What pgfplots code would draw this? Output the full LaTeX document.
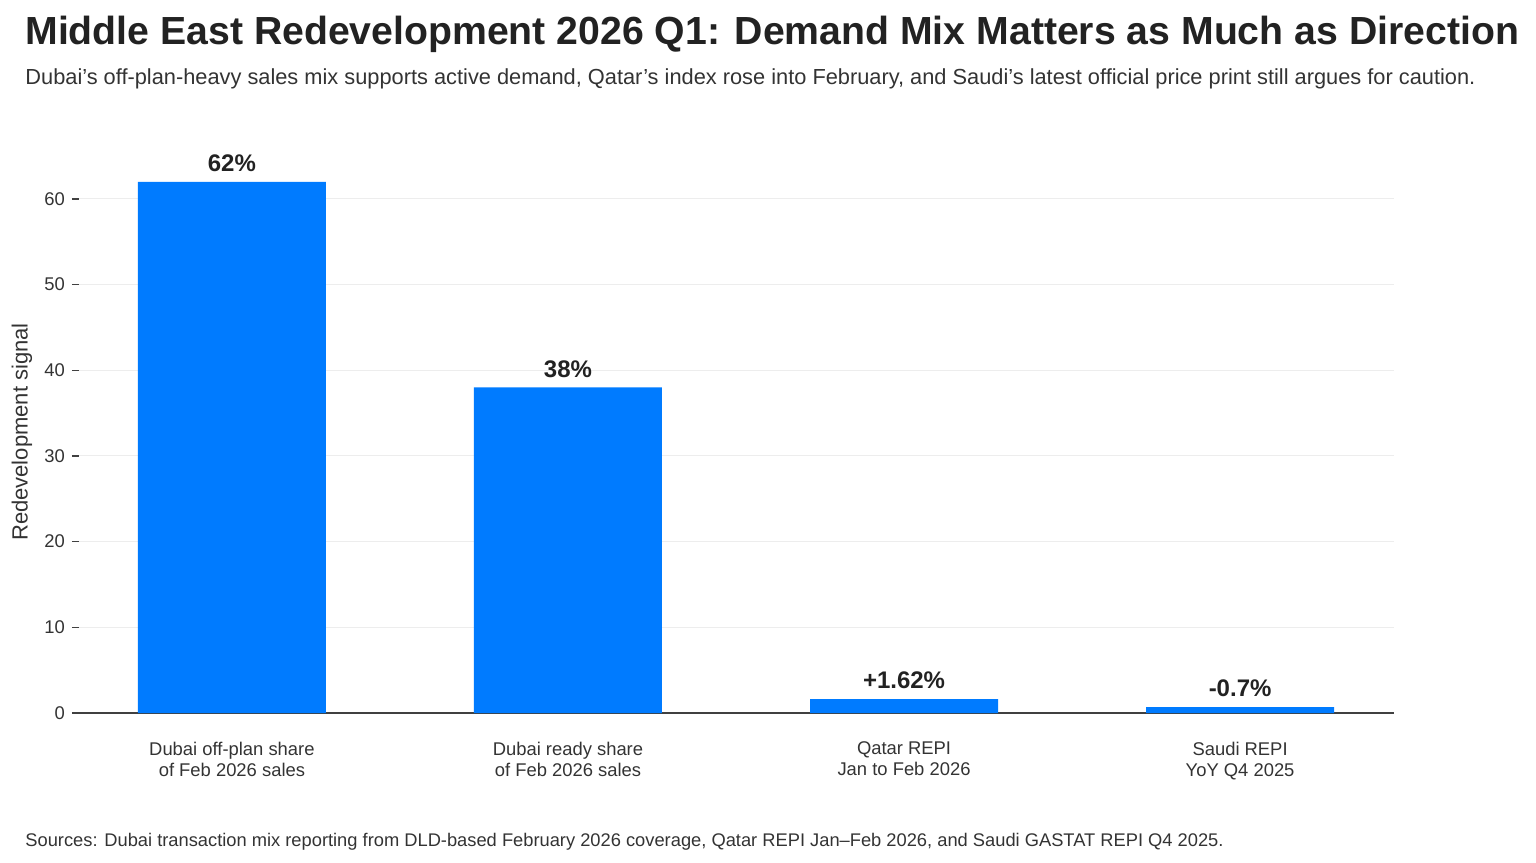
\documentclass[border=0pt]{standalone}
\usepackage{pgfplots}
\pgfplotsset{compat=1.18}
\usepackage{fontspec}
\setmainfont{Liberation Sans}
\definecolor{barblue}{HTML}{007BFF}
\definecolor{txt}{HTML}{222222}
\definecolor{ticktxt}{HTML}{333333}
\begin{document}
\begin{tikzpicture}
\path[use as bounding box] (0,0) rectangle (768bp,431.5bp);
\node[anchor=base west, inner sep=0, text=txt, font=\fontsize{19.6bp}{23bp}\selectfont\bfseries] at (12.5bp,409bp) {Middle East Redevelopment 2026 Q1: Demand Mix Matters as Much as Direction};
\node[anchor=base west, inner sep=0, text=ticktxt, font=\fontsize{10.9bp}{13bp}\selectfont] at (12.5bp,389bp) {Dubai’s off-plan-heavy sales mix supports active demand, Qatar’s index rose into February, and Saudi’s latest official price print still argues for caution.};
\node[anchor=base west, inner sep=0, text=ticktxt, font=\fontsize{9.15bp}{11bp}\selectfont] at (12.5bp,8.5bp) {Sources: Dubai transaction mix reporting from DLD-based February 2026 coverage, Qatar REPI Jan–Feb 2026, and Saudi GASTAT REPI Q4 2025.};
\node[rotate=90, inner sep=0, text=ticktxt, font=\fontsize{11bp}{13bp}\selectfont] at (11bp,215.5bp) {Redevelopment signal};
\begin{axis}[
  at={(39.5bp,75bp)}, anchor=south west,
  scale only axis, width=657.5bp, height=287bp,
  xmin=-0.455, xmax=3.458, ymin=0, ymax=67,
  axis lines*=left,
  y axis line style={draw=none},
  x axis line style={draw=black!75, line width=0.6bp},
  ytick={0,10,20,30,40,50,60},
  xtick=data,
  xticklabels={{Dubai off-plan share\\of Feb 2026 sales},{Dubai ready share\\of Feb 2026 sales},{Qatar REPI\\Jan to Feb 2026},{Saudi REPI\\YoY Q4 2025}},
  xticklabel style={align=center, font=\fontsize{9.2bp}{10.5bp}\selectfont, text=ticktxt, yshift=-7.5bp},
  yticklabel style={font=\fontsize{9.2bp}{11bp}\selectfont, text=ticktxt},
  /pgf/number format/assume math mode=true,
  x tick style={draw=none},
  y tick style={draw=black!75, line width=0.6bp},
  tick align=outside, major tick length=3.5bp,
  ymajorgrids, grid style={draw=black!7, line width=0.5bp},
  major x tick style={draw=none},
  ybar, bar width=94bp, bar shift=0pt,
  nodes near coords, point meta=explicit symbolic,
  every node near coord/.append style={font=\fontsize{12bp}{14bp}\selectfont\bfseries, text=txt, yshift=1.5bp},
  clip=false,
]
\addplot[fill=barblue, draw=none] coordinates {(0,62) [62\%] (1,38) [38\%] (2,1.62) [+1.62\%] (3,0.7) [-0.7\%]};
\end{axis}
\end{tikzpicture}
\end{document}
